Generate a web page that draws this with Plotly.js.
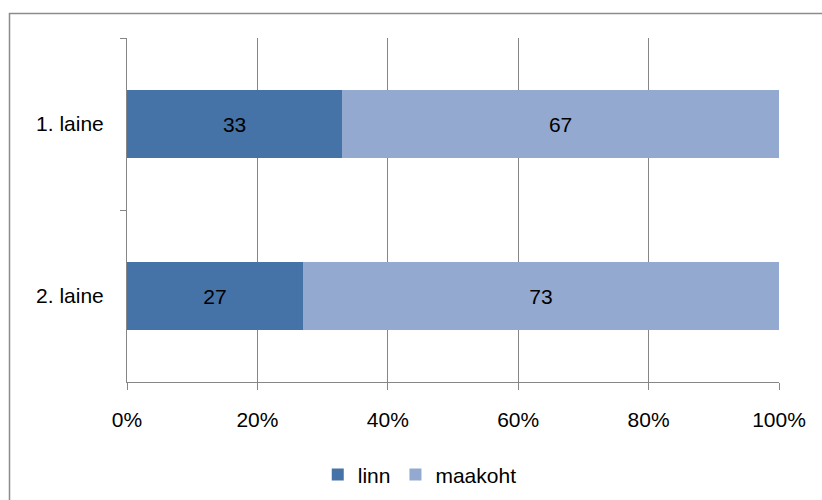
<!DOCTYPE html>
<html>
<head>
<meta charset="utf-8">
<script src="https://cdn.plot.ly/plotly-3.0.1.min.js"></script>
<style>html,body{margin:0;padding:0;background:#fff;}#chart{width:822px;height:500px;}</style>
</head>
<body>
<div id="chart"></div>
<script>
const categories = ["1. laine", "2. laine"];
const linnValues = [33, 27];
const maakohtValues = [67, 73];
const seriesNames = ["linn", "maakoht"];
const tickValues = [0, 20, 40, 60, 80, 100];
const tickLabels = ["0%", "20%", "40%", "60%", "80%", "100%"];

const font = {family: "Liberation Sans, Arial, sans-serif", size: 21, color: "#000"};

const traces = [
  {
    type: "bar", orientation: "h", name: seriesNames[0],
    y: categories, x: linnValues,
    text: linnValues.map(String), textposition: "inside", insidetextanchor: "middle",
    textfont: font, marker: {color: "#4572A7"}, hoverinfo: "none"
  },
  {
    type: "bar", orientation: "h", name: seriesNames[1],
    y: categories, x: maakohtValues,
    text: maakohtValues.map(String), textposition: "inside", insidetextanchor: "middle",
    textfont: font, marker: {color: "#93A9CF"}, hoverinfo: "none"
  }
];

const layout = {
  width: 822, height: 500,
  margin: {l: 127, r: 43, t: 38, b: 118, autoexpand: false},
  paper_bgcolor: "#fff", plot_bgcolor: "#fff",
  barmode: "stack", bargap: 0.605,
  font: font,
  showlegend: true,
  legend: {orientation: "h", x: 0.449, xanchor: "center", y: -0.21, yanchor: "top",
           font: font, traceorder: "normal", itemwidth: 30},
  xaxis: {
    range: [0, 100], tickvals: tickValues, ticktext: tickLabels,
    showgrid: true, gridcolor: "#868686", gridwidth: 1,
    showline: true, linecolor: "#868686", linewidth: 1,
    ticks: "outside", ticklen: 7, tickcolor: "#868686",
    zeroline: false, tickfont: font, ticklabelstandoff: 12, fixedrange: true
  },
  yaxis: {
    type: "category", categoryorder: "array", categoryarray: categories,
    autorange: "reversed",
    showline: true, linecolor: "#868686", linewidth: 1,
    ticks: "outside", ticklen: 6, tickcolor: "#868686", tickson: "boundaries",
    showgrid: false, zeroline: false, tickfont: font, ticklabelstandoff: 18, fixedrange: true
  },
  shapes: [{
    type: "rect", xref: "paper", yref: "paper",
    x0: (9.5 - 127) / 652, x1: (840 - 127) / 652,
    y0: -(520 - 382) / 344, y1: (382 - 13.5) / 344,
    line: {color: "#8c8c8c", width: 1.5}, fillcolor: "rgba(0,0,0,0)", layer: "below"
  }]
};

Plotly.newPlot("chart", traces, layout, {staticPlot: true, displayModeBar: false});
</script>
</body>
</html>
